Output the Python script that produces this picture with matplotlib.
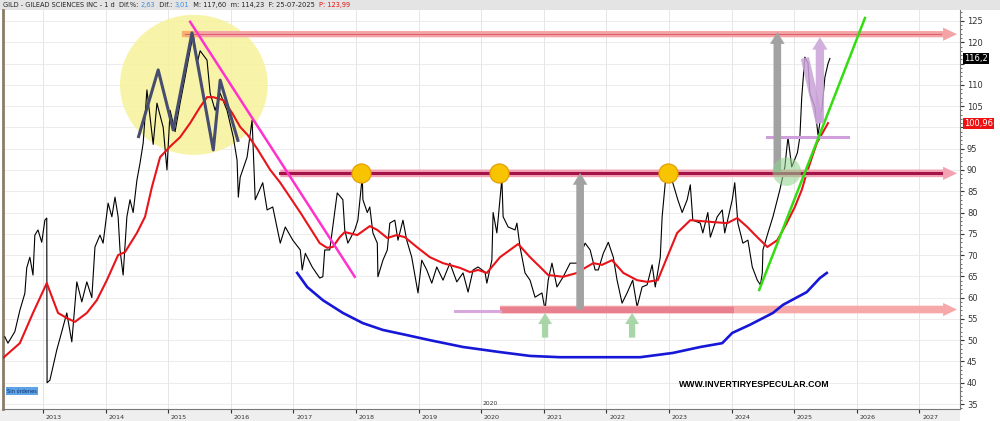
import matplotlib
matplotlib.use("Agg")
import matplotlib.pyplot as plt
import matplotlib.transforms as mtransforms
from matplotlib.patches import Ellipse, FancyArrowPatch, Rectangle

# GILD daily closes (decimal year, price)
price_t = [2012.39, 2012.44, 2012.55, 2012.63, 2012.71, 2012.74, 2012.79, 2012.84, 2012.87, 2012.92,
           2012.98, 2013.03, 2013.06, 2013.065, 2013.11, 2013.22, 2013.30, 2013.38, 2013.46, 2013.54,
           2013.62, 2013.70, 2013.78, 2013.83, 2013.91, 2013.96, 2014.04, 2014.10, 2014.15, 2014.20,
           2014.23, 2014.28, 2014.34, 2014.39, 2014.44, 2014.50, 2014.55, 2014.60, 2014.66, 2014.76,
           2014.82, 2014.92, 2014.98, 2015.03, 2015.11, 2015.19, 2015.27, 2015.32, 2015.40, 2015.46,
           2015.51, 2015.62, 2015.67, 2015.75, 2015.83, 2015.94, 2016.04, 2016.10, 2016.12, 2016.15,
           2016.26, 2016.34, 2016.39, 2016.51, 2016.58, 2016.67, 2016.79, 2016.87, 2016.99, 2017.11,
           2017.14, 2017.19, 2017.30, 2017.42, 2017.47, 2017.50, 2017.58, 2017.70, 2017.79, 2017.82,
           2017.87, 2017.98, 2018.03, 2018.10, 2018.11, 2018.18, 2018.22, 2018.27, 2018.34, 2018.35,
           2018.43, 2018.50, 2018.54, 2018.62, 2018.67, 2018.75, 2018.81, 2018.89, 2018.99, 2019.05,
           2019.13, 2019.21, 2019.29, 2019.39, 2019.50, 2019.61, 2019.71, 2019.79, 2019.87, 2019.95,
           2020.06, 2020.09, 2020.17, 2020.19, 2020.25, 2020.33, 2020.35, 2020.43, 2020.54, 2020.57,
           2020.62, 2020.70, 2020.78, 2020.86, 2020.97, 2021.02, 2021.07, 2021.13, 2021.21, 2021.31,
           2021.42, 2021.53, 2021.66, 2021.74, 2021.82, 2021.87, 2021.95, 2022.03, 2022.11, 2022.17,
           2022.25, 2022.33, 2022.42, 2022.49, 2022.57, 2022.65, 2022.73, 2022.78, 2022.86, 2022.89,
           2022.94, 2022.98, 2023.06, 2023.14, 2023.21, 2023.29, 2023.34, 2023.38, 2023.50, 2023.54,
           2023.62, 2023.66, 2023.77, 2023.85, 2023.89, 2024.01, 2024.05, 2024.10, 2024.18, 2024.26,
           2024.33, 2024.41, 2024.46, 2024.49, 2024.50, 2024.58, 2024.66, 2024.77, 2024.85, 2024.90,
           2024.96, 2025.05, 2025.09, 2025.12, 2025.17, 2025.22, 2025.25, 2025.33, 2025.38, 2025.44,
           2025.49, 2025.54, 2025.57]
price = [50.8, 49.3, 52.0, 57.0, 61.0, 67.0, 69.5, 65.3, 74.7, 75.9,
         73.0, 78.2, 78.7, 40.0, 40.6, 47.7, 52.0, 56.4, 49.6, 63.7,
         59.0, 63.7, 60.0, 71.9, 74.7, 72.8, 82.2, 79.0, 83.6, 79.0,
         71.2, 65.3, 79.0, 83.0, 80.0, 87.6, 91.6, 96.3, 108.8, 96.0,
         105.7, 100.0, 90.0, 104.0, 99.0, 105.7, 111.8, 115.8, 122.0, 115.0,
         118.0, 115.8, 108.0, 104.0, 108.0, 104.0, 97.7, 92.3, 83.6, 88.3,
         93.0, 101.7, 83.0, 87.0, 80.6, 81.3, 72.8, 76.6, 73.5, 71.2,
         66.5, 70.4, 67.2, 64.6, 64.9, 71.2, 71.2, 84.6, 83.0, 75.9,
         72.8, 75.9, 78.2, 88.5, 83.0, 80.0, 81.3, 75.2, 72.8, 64.9,
         68.8, 71.2, 77.5, 78.2, 73.5, 78.2, 73.5, 69.5, 61.1, 68.8,
         66.5, 63.4, 67.2, 64.1, 68.1, 63.7, 65.8, 61.3, 66.5, 67.2,
         66.0, 63.4, 68.8, 80.0, 75.2, 88.0, 79.0, 76.6, 75.9, 77.5,
         71.9, 65.8, 64.1, 60.1, 61.1, 57.1, 64.1, 68.1, 62.5, 64.9,
         68.1, 68.1, 72.8, 71.2, 66.5, 66.5, 70.4, 73.0, 69.5, 64.1,
         58.7, 61.1, 64.1, 57.8, 62.5, 63.0, 67.7, 62.5, 69.5, 79.0,
         87.0, 88.5, 87.0, 83.0, 80.0, 83.0, 86.5, 78.2, 77.5, 75.2,
         80.0, 74.2, 79.0, 80.6, 75.2, 83.0, 87.0, 77.5, 72.8, 73.5,
         67.2, 64.1, 63.0, 65.8, 71.2, 75.2, 79.0, 85.3, 90.7, 97.7,
         90.7, 94.0, 97.7, 107.1, 116.5, 115.1, 108.0, 104.8, 98.2, 104.0,
         111.8, 115.0, 116.2]

# moving average (red)
ma_t = [2012.36, 2012.63, 2012.84, 2013.06, 2013.24, 2013.38, 2013.51, 2013.70, 2013.86, 2014.02,
        2014.20, 2014.31, 2014.50, 2014.63, 2014.74, 2014.87, 2015.03, 2015.19, 2015.35, 2015.51,
        2015.62, 2015.72, 2015.88, 2016.02, 2016.15, 2016.27, 2016.42, 2016.63, 2016.79, 2017.11,
        2017.42, 2017.54, 2017.63, 2017.74, 2017.82, 2018.02, 2018.22, 2018.34, 2018.50, 2018.65,
        2018.78, 2018.97, 2019.18, 2019.39, 2019.66, 2019.82, 2019.95, 2020.09, 2020.30, 2020.59,
        2020.78, 2020.94, 2021.07, 2021.31, 2021.53, 2021.66, 2021.79, 2021.93, 2022.09, 2022.27,
        2022.49, 2022.65, 2022.82, 2022.97, 2023.13, 2023.34, 2023.66, 2023.93, 2024.09, 2024.25,
        2024.41, 2024.57, 2024.73, 2024.88, 2025.01, 2025.12, 2025.20, 2025.36, 2025.54]
ma = [45.8, 49.3, 56.4, 63.4, 56.4, 55.2, 54.3, 56.4, 59.4, 64.1,
      70.0, 70.7, 75.2, 79.0, 86.0, 93.0, 95.5, 97.7, 101.0, 104.8,
      107.1, 107.1, 106.4, 103.4, 100.1, 98.2, 95.0, 90.0, 87.0, 80.0,
      72.8, 71.7, 71.9, 74.2, 75.4, 74.7, 76.8, 75.9, 74.0, 74.7,
      74.2, 71.9, 69.5, 68.1, 67.0, 66.0, 66.5, 65.8, 69.5, 72.6,
      69.5, 67.2, 65.3, 64.9, 65.8, 67.0, 68.1, 67.7, 68.8, 65.8,
      64.1, 63.7, 64.1, 69.5, 75.2, 78.2, 77.8, 77.5, 78.7, 76.6,
      74.2, 71.9, 73.5, 77.5, 81.3, 85.3, 89.3, 96.3, 101.0]

# hand drawn rounded bottom (blue)
arc_t = [2017.06, 2017.22, 2017.47, 2017.79, 2018.11, 2018.43, 2018.81, 2019.18, 2019.71, 2020.30,
         2020.78, 2021.26, 2021.90, 2022.54, 2023.06, 2023.50, 2023.85, 2024.01, 2024.29, 2024.66,
         2024.82, 2025.20, 2025.41, 2025.52]
arc = [65.8, 62.5, 59.4, 56.4, 54.0, 52.4, 51.2, 50.0, 48.4, 47.2,
       46.3, 46.0, 46.0, 46.0, 47.0, 48.4, 49.3, 51.7, 53.6, 56.4,
       58.3, 61.3, 64.6, 65.8]

# hand drawn zigzag over the 2014-2016 top
zig_t = [2014.52, 2014.84, 2015.08, 2015.38, 2015.72, 2015.83, 2016.12]
zig = [97.5, 113.5, 99.4, 122.2, 94.7, 111.1, 96.6]

tops_t = [2018.08, 2020.28, 2022.98]
top_level = 89.2
high_level = 121.9
low_level = 57.2

years = list(range(2013, 2028))
yticks = list(range(35, 130, 5))

last_price = "116,2"
ref_price = "100,96"

fig = plt.figure(figsize=(10, 4.21), dpi=100)
ax = fig.add_axes([0.003, 12 / 421, 0.957, 399 / 421])
ax.set_xlim(2012.361, 2027.648)
ax.set_ylim(33.83, 127.58)

# header bar and bottom strip
fig.patches.append(Rectangle((0, 1 - 10 / 421), 1, 10 / 421, transform=fig.transFigure,
                             facecolor="#e4e4e4", edgecolor="none", zorder=-1))
fig.patches.append(Rectangle((0, 0), 0.96, 12 / 421, transform=fig.transFigure,
                             facecolor="#efefef", edgecolor="none", zorder=-1))

# header text, pieces in different colours
hx = 0.003
parts = [("GILD - GILEAD SCIENCES INC - 1 d  Dif.%: ", "#222222"), ("2,63", "#3a8ee0"),
         ("  Dif.: ", "#222222"), ("3,01", "#3a8ee0"),
         ("  M: 117,60  m: 114,23  F: 25-07-2025  ", "#222222"), ("P: 123,99", "#e01010")]
renderer = fig.canvas.get_renderer()
for s, c in parts:
    t = fig.text(hx, 1 - 5 / 421, s, fontsize=4.8, color=c, va="center", ha="left")
    bb = t.get_window_extent(renderer=renderer)
    hx += bb.width / 1000

# grid
for y in yticks:
    ax.axhline(y, color="#ececec", lw=0.7, zorder=0)
for x in years:
    ax.axvline(x, color="#e6e6e6", lw=0.7, zorder=0)

# yellow circle around the top
ax.add_patch(Ellipse((2015.41, 110.0), 2.36, 32.9, facecolor="#f6f29a", edgecolor="none",
                     alpha=0.85, zorder=1))

# price and moving average
ax.plot(price_t, price, color="black", lw=0.8, zorder=3)
ax.plot(ma_t, ma, color="#e8141a", lw=1.5, zorder=4)

# zigzag
ax.plot(zig_t, zig, color="#474d6e", lw=2.2, zorder=5, solid_capstyle="butt")

# blue rounded bottom
ax.plot(arc_t, arc, color="#1717d8", lw=1.9, zorder=5)

# magenta down trend and green up trend
ax.plot([2015.35, 2017.98], [124.8, 64.9], color="#ff33cc", lw=1.8, zorder=5)
ax.plot([2024.44, 2026.13], [61.8, 125.7], color="#33dd11", lw=1.8, zorder=6)


def band_arrow(x0, x1, y, color, tw, hw):
    ax.add_patch(FancyArrowPatch((x0, y), (x1, y),
                                 arrowstyle="simple,head_length=1.0,head_width=%.2f,tail_width=%.2f" % (hw, tw),
                                 mutation_scale=10, color=color, lw=0, zorder=4.5,
                                 shrinkA=0, shrinkB=0))


# top horizontal resistance
band_arrow(2015.27, 2027.60, high_level, "#f4a4a4", 0.45, 0.95)
ax.plot([2015.27, 2015.45], [high_level, high_level], color="#f6b070", lw=4.5, zorder=4.6)
ax.plot([2015.27, 2027.35], [high_level, high_level], color="#dd5f72", lw=0.8, zorder=4.7)

# middle level at 89
band_arrow(2016.79, 2027.60, top_level, "#f2a2b2", 0.55, 0.95)
ax.plot([2016.79, 2027.35], [top_level, top_level], color="#a3134a", lw=2.2, zorder=4.7)

# bottom support
band_arrow(2020.30, 2027.60, low_level, "#f7a9a9", 0.55, 0.95)
ax.plot([2020.30, 2024.03], [low_level, low_level], color="#e8808f", lw=4.6, zorder=4.6,
        solid_capstyle="butt")
ax.plot([2019.58, 2020.30], [56.9, 56.9], color="#d7a8dc", lw=2.2, zorder=4.6)

# short lavender level
ax.plot([2024.57, 2025.86], [97.7, 97.7], color="#cf9fdc", lw=2.2, zorder=4.6)

# yellow dots on the tops
ax.scatter(tops_t, [top_level] * 3, s=190, color="#f8c400", edgecolor="#e39a00",
           linewidth=0.8, zorder=7)
# green dot on the breakout
ax.scatter([2024.88], [89.6], s=420, color="#8fd48f", alpha=0.55, edgecolor="none", zorder=7)


def up_arrow(x, y0, y1, color, tw, hw, hl, alpha=1.0):
    ax.add_patch(FancyArrowPatch((x, y0), (x, y1),
                                 arrowstyle="simple,head_length=%.2f,head_width=%.2f,tail_width=%.2f" % (hl, hw, tw),
                                 mutation_scale=10, color=color, lw=0, zorder=6, alpha=alpha,
                                 shrinkA=0, shrinkB=0))


# gray measured move arrows
up_arrow(2021.58, 57.2, 89.3, "#a2a2a2", 0.55, 1.05, 0.85)
up_arrow(2024.73, 89.5, 122.4, "#a2a2a2", 0.55, 1.05, 0.85)

# green arrows under the lows
up_arrow(2021.02, 50.6, 56.4, "#a9d6a9", 0.45, 1.0, 0.8)
up_arrow(2022.41, 50.6, 56.4, "#a9d6a9", 0.45, 1.0, 0.8)

# lavender pull back and target arrow
ax.plot([2025.17, 2025.41], [116.3, 101.0], color="#c9a3d9", lw=6, alpha=0.85, zorder=6,
        solid_capstyle="butt")
up_arrow(2025.41, 101.0, 121.2, "#c9a3d9", 0.6, 1.1, 0.9, alpha=0.85)

# axes styling; the price boxes sit on top of the 100 and 115 labels
ax.yaxis.tick_right()
ax.set_yticks(yticks)
ax.set_yticklabels(["" if y in (100, 115) else str(y) for y in yticks])
ax.set_yticks(range(34, 128), minor=True)
ax.tick_params(axis="y", which="major", length=3, labelsize=6, colors="#333333", pad=2)
ax.tick_params(axis="y", which="minor", length=1.5, colors="#555555")
ax.set_xticks(years)
ax.set_xticklabels([str(y) for y in years], ha="left")
ax.tick_params(axis="x", length=3, labelsize=4.6, colors="#333333", pad=1)
offset = mtransforms.ScaledTranslation(2 / 72, 0, fig.dpi_scale_trans)
for lab in ax.get_xticklabels():
    lab.set_transform(lab.get_transform() + offset)

ax.spines["top"].set_visible(False)
ax.spines["left"].set_color("#8a7b68")
ax.spines["left"].set_linewidth(2)
ax.spines["right"].set_color("#777777")
ax.spines["bottom"].set_color("#777777")

ax.text(2020.02, 34.6, "2020", fontsize=4.3, color="#333333", ha="left", va="bottom")

# price boxes on the axis
bt = mtransforms.blended_transform_factory(ax.transAxes, ax.transData)
ax.text(1.004, 116.2, last_price, transform=bt, fontsize=6, color="white", va="center", ha="left",
        bbox=dict(boxstyle="square,pad=0.15", facecolor="black", edgecolor="none"), zorder=10)
ax.text(1.004, 100.96, ref_price, transform=bt, fontsize=6, color="white", va="center", ha="left",
        bbox=dict(boxstyle="square,pad=0.15", facecolor="#ee1111", edgecolor="none"), zorder=10)

# watermark and status box
ax.text(2024.37, 39.6, "WWW.INVERTIRYESPECULAR.COM", fontsize=6.3, fontweight="bold",
        family="Liberation Sans", color="black", ha="center", va="center", zorder=10)
ax.text(0.0045, 0.045, "Sin órdenes", transform=ax.transAxes, fontsize=3.6, color="#0a2a66",
        ha="left", va="center",
        bbox=dict(boxstyle="square,pad=0.25", facecolor="#5da2e6", edgecolor="none"), zorder=10)

fig.savefig("out.png", dpi=100)
